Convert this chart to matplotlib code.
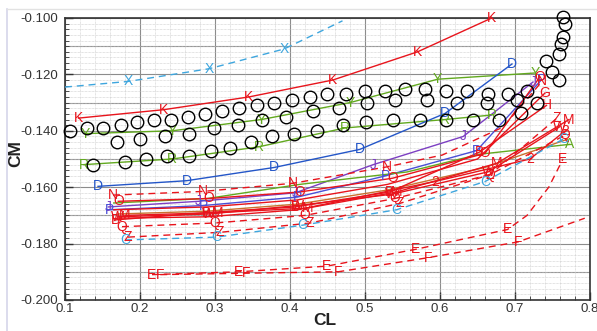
import matplotlib
matplotlib.use("Agg")
import matplotlib.pyplot as plt
from matplotlib.lines import Line2D
from matplotlib.ticker import MultipleLocator, FormatStrFormatter

plt.rcParams["font.family"] = ["Liberation Sans", "DejaVu Sans"]

RED = "#e8141c"
GREEN = "#62a91f"
BLUE = "#2456c8"
LBLUE = "#3ea6de"
PURPLE = "#7c3fc2"
PBLUE = "#4a4fd6"
ORANGE = "#c9702e"

# experimental data (open circles)
EXP_CL = [0.107, 0.129, 0.151, 0.175, 0.196, 0.219, 0.241, 0.264, 0.287, 0.309,
          0.332, 0.356, 0.379, 0.403, 0.427, 0.449, 0.475, 0.500, 0.527, 0.553,
          0.580, 0.608, 0.636, 0.664, 0.691, 0.716,
          0.169, 0.200, 0.233, 0.265, 0.299, 0.331, 0.363, 0.395, 0.431, 0.465,
          0.503, 0.540, 0.583, 0.623, 0.663, 0.703, 0.729, 0.708,
          0.137, 0.180, 0.208, 0.236, 0.265, 0.295, 0.320, 0.348, 0.376, 0.405,
          0.436, 0.471, 0.501, 0.537, 0.573, 0.608, 0.644, 0.679,
          0.764, 0.767, 0.764, 0.762, 0.759, 0.742, 0.749, 0.759]
EXP_CM = [-0.140, -0.139, -0.139, -0.138, -0.137, -0.136, -0.136, -0.135, -0.134, -0.133,
          -0.132, -0.131, -0.130, -0.129, -0.128, -0.127, -0.127, -0.126, -0.126, -0.125,
          -0.125, -0.126, -0.126, -0.127, -0.127, -0.126,
          -0.144, -0.143, -0.142, -0.141, -0.139, -0.138, -0.136, -0.135, -0.133, -0.132,
          -0.130, -0.129, -0.129, -0.130, -0.130, -0.129, -0.130, -0.1337,
          -0.152, -0.151, -0.150, -0.149, -0.149, -0.147, -0.146, -0.144, -0.142, -0.141,
          -0.140, -0.138, -0.137, -0.136, -0.136, -0.136, -0.136, -0.136,
          -0.0998, -0.1021, -0.1068, -0.1092, -0.1128, -0.1151, -0.119, -0.122]

# computed curves: CL, CM, letter shown at each point (blank = none)
X_CL = [0.100, 0.184, 0.292, 0.392, 0.470]
X_CM = [-0.1245, -0.1225, -0.118, -0.111, -0.101]
X_TXT = " XXX "

K_CL = [0.118, 0.232, 0.345, 0.457, 0.570, 0.669]
K_CM = [-0.1355, -0.1325, -0.128, -0.122, -0.112, -0.100]
K_TXT = "KKKKKK"

Y_CL = [0.127, 0.243, 0.362, 0.480, 0.597, 0.727]
Y_CM = [-0.141, -0.140, -0.136, -0.130, -0.1217, -0.1195]
Y_TXT = "YYYYYY"

R_CL = [0.125, 0.243, 0.358, 0.473, 0.607, 0.669]
R_CM = [-0.152, -0.150, -0.1457, -0.139, -0.136, -0.1344]
R_TXT = "RRRRRR"

D_CL = [0.144, 0.262, 0.379, 0.493, 0.607, 0.696]
D_CM = [-0.1597, -0.1577, -0.153, -0.1466, -0.1338, -0.1163]
D_TXT = "DDDDDD"

J_CL = [0.158, 0.278, 0.407, 0.511, 0.631, 0.724]
J_CM = [-0.167, -0.165, -0.162, -0.152, -0.142, -0.1227]
J_TXT = "JJJJJJ"

P_CL = [0.160, 0.285, 0.410, 0.527, 0.649, 0.735]
P_CM = [-0.168, -0.1665, -0.1635, -0.156, -0.147, -0.122]
P_TXT = "PPPPPP"

N_CL = [0.164, 0.284, 0.404, 0.529, 0.603, 0.684, 0.736]
N_CM = [-0.1628, -0.1615, -0.1586, -0.1528, -0.1486, -0.1387, -0.1225]
N_TXT = "NNNN  N"

O_CL = [0.171, 0.292, 0.413, 0.537, 0.660, 0.733]
O_CM = [-0.165, -0.164, -0.1617, -0.1568, -0.148, -0.121]
O_TXT = "OOOOOO"

G_CL = [0.165, 0.290, 0.410, 0.530, 0.650, 0.740]
G_CM = [-0.168, -0.167, -0.1645, -0.159, -0.150, -0.1266]
G_TXT = "     G"

B_CL = [0.167, 0.289, 0.407, 0.533, 0.653, 0.742]
B_CM = [-0.1716, -0.169, -0.167, -0.1617, -0.1475, -0.131]
B_TXT = "BBBBBH"

W_CL = [0.170, 0.292, 0.410, 0.536, 0.665, 0.760]
W_CM = [-0.1705, -0.1695, -0.1665, -0.1625, -0.1545, -0.1385]
W_TXT = "WWWWWW"

M_CL = [0.180, 0.304, 0.423, 0.542, 0.676, 0.772]
M_CM = [-0.170, -0.169, -0.1674, -0.1617, -0.1515, -0.136]
M_TXT = "MMMMMM"

T2_CL = [0.170, 0.290, 0.410, 0.593, 0.720, 0.767]
T2_CM = [-0.171, -0.1705, -0.168, -0.158, -0.150, -0.140]
T2_TXT = "   222"

OR_CL = [0.170, 0.290, 0.410, 0.530, 0.660, 0.770]
OR_CM = [-0.1695, -0.1685, -0.166, -0.161, -0.153, -0.143]
OR_TXT = "      "

Q_CL = [0.176, 0.300, 0.420, 0.540, 0.667, 0.767]
Q_CM = [-0.174, -0.1727, -0.170, -0.164, -0.1555, -0.1415]
Q_TXT = "QQQQQQ"

Z_CL = [0.184, 0.307, 0.427, 0.547, 0.667, 0.756]
Z_CM = [-0.1777, -0.176, -0.1727, -0.1657, -0.1555, -0.1355]
Z_TXT = "ZZZZZZ"

C_CL = [0.180, 0.302, 0.416, 0.542, 0.660, 0.764]
C_CM = [-0.1787, -0.1777, -0.1735, -0.168, -0.158, -0.143]
C_TXT = "CCCCCC"

A_CL = [0.165, 0.290, 0.413, 0.556, 0.653, 0.773]
A_CM = [-0.1656, -0.164, -0.159, -0.1546, -0.1483, -0.1448]
A_TXT = "     A"

E_CL = [0.216, 0.332, 0.449, 0.568, 0.690, 0.716, 0.745, 0.764]
E_CM = [-0.191, -0.190, -0.188, -0.182, -0.175, -0.170, -0.160, -0.150]
E_TXT = "EEEEE  E"

F_CL = [0.227, 0.342, 0.464, 0.584, 0.704, 0.793]
F_CM = [-0.191, -0.1905, -0.190, -0.185, -0.1794, -0.171]
F_TXT = "FFFFF "

DASH = (0, (5, 3.5))
SERIES = [
    (X_CL, X_CM, X_TXT, LBLUE, DASH),
    (K_CL, K_CM, K_TXT, RED, "-"),
    (Y_CL, Y_CM, Y_TXT, GREEN, "-"),
    (R_CL, R_CM, R_TXT, GREEN, "-"),
    (D_CL, D_CM, D_TXT, BLUE, "-"),
    (J_CL, J_CM, J_TXT, PURPLE, "-"),
    (P_CL, P_CM, P_TXT, PBLUE, "-"),
    (A_CL, A_CM, A_TXT, GREEN, "-"),
    (OR_CL, OR_CM, OR_TXT, ORANGE, "-"),
    (N_CL, N_CM, N_TXT, RED, DASH),
    (O_CL, O_CM, O_TXT, RED, "-"),
    (G_CL, G_CM, G_TXT, RED, "-"),
    (B_CL, B_CM, B_TXT, RED, "-"),
    (W_CL, W_CM, W_TXT, RED, "-"),
    (M_CL, M_CM, M_TXT, RED, "-"),
    (T2_CL, T2_CM, T2_TXT, RED, "-"),
    (Q_CL, Q_CM, Q_TXT, RED, DASH),
    (Z_CL, Z_CM, Z_TXT, RED, DASH),
    (C_CL, C_CM, C_TXT, LBLUE, DASH),
    (E_CL, E_CM, E_TXT, RED, DASH),
    (F_CL, F_CM, F_TXT, RED, DASH),
]

fig = plt.figure(figsize=(5.97, 3.31), dpi=100)
ax = fig.add_axes([65 / 597, 31 / 331, 525 / 597, 282 / 331])
ax.set_xlim(0.1, 0.8)
ax.set_ylim(-0.2, -0.1)

# grids
ax.xaxis.set_major_locator(MultipleLocator(0.1))
ax.xaxis.set_minor_locator(MultipleLocator(0.02))
ax.yaxis.set_major_locator(MultipleLocator(0.02))
ax.yaxis.set_minor_locator(MultipleLocator(0.002))
for v in [0.1 * i for i in range(1, 9)]:
    ax.axvline(v, color="#8c8c8c", lw=0.8, zorder=0)
for i in range(11):
    ax.axhline(-0.2 + 0.01 * i, color="#8c8c8c", lw=0.8, zorder=0)
ax.grid(which="minor", color="#c8c8c8", lw=0.5, ls=(0, (1, 1)), zorder=0)
ax.yaxis.set_major_formatter(FormatStrFormatter("%.3f"))
ax.xaxis.set_major_formatter(FormatStrFormatter("%.1f"))
ax.tick_params(which="major", direction="in", length=6, width=1, labelsize=9.5,
               colors="#333333")
ax.tick_params(axis="x", which="major", pad=2)
ax.tick_params(axis="y", which="major", pad=5)
ax.tick_params(which="minor", direction="in", length=3, width=0.6, colors="#333333")
for s in ax.spines.values():
    s.set_linewidth(1.2)
    s.set_color("#333333")

for cl, cm, txt, col, ls in SERIES:
    ax.plot(cl, cm, color=col, lw=1.0, ls=ls, zorder=3)
    for x, y, ch in zip(cl, cm, txt):
        if ch.strip():
            ax.text(x, y, ch, color=col, fontsize=10, ha="center", va="center",
                    zorder=4, clip_on=False)

ax.plot(EXP_CL, EXP_CM, ls="none", marker="o", ms=9, mfc="none", mec="black",
        mew=1.0, zorder=5, clip_on=False)

ax.set_xlabel("CL", fontsize=12.5, fontweight="bold", color="#222222")
ax.set_ylabel("CM", fontsize=12.5, fontweight="bold", color="#222222")
ax.xaxis.set_label_coords(0.495, -0.045)
ax.yaxis.set_label_coords(-0.08, 0.52)

fig.add_artist(Line2D([7 / 597, 7 / 597], [0, 1 - 9 / 331], color="#d6d6ea", lw=1.2))
fig.add_artist(Line2D([7 / 597, 1], [1 - 9 / 331, 1 - 9 / 331], color="#e2e2e2", lw=1.0))

fig.savefig("out.png", dpi=100)
